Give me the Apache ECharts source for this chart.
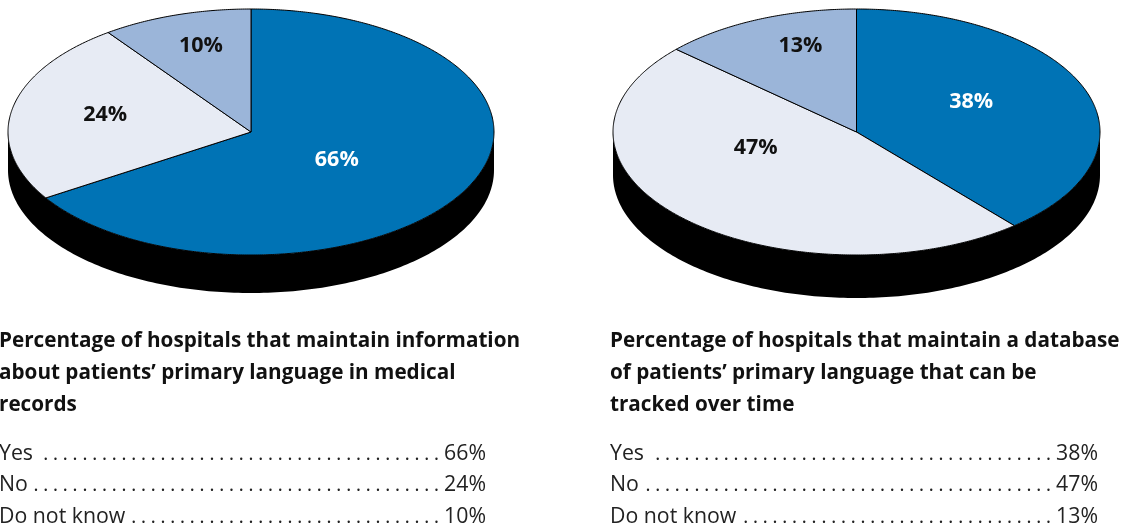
<!DOCTYPE html>
<html>
<head>
<meta charset="utf-8">
<style>
html, body { margin: 0; padding: 0; background: #fff; }
#main { width: 1125px; height: 529px; }
</style>
<script src="https://cdn.jsdelivr.net/npm/echarts@6/dist/echarts.min.js"></script>
</head>
<body>
<div id="main"></div>
<script>
const categories = ['Yes', 'No', 'Do not know']
const medicalRecords = [66, 24, 10]
const databaseTracked = [38, 47, 13]
const titleLeft = ['Percentage of hospitals that maintain information', 'about patients\u2019 primary language in medical', 'records']
const titleRight = ['Percentage of hospitals that maintain a database', 'of patients\u2019 primary language that can be', 'tracked over time']

const sliceColors = ['#0073b5', '#e7ebf4', '#9bb5d9']
const labelColors = ['#ffffff', '#111111', '#111111']
const textFont = '"Open Sans"'

// top-down clockwise angle on the squashed circle
const rimPoint = (p, deg, dy) => {
    const a = deg * Math.PI / 180
    return [p.cx + p.rx * Math.sin(a), p.cy - p.ry * Math.cos(a) + (dy || 0)]
}

const pieSeries = (p, values) => {
    const total = values.reduce((s, v) => s + v, 0)
    const side = {
        type: 'custom',
        coordinateSystem: 'none',
        silent: true,
        data: [0],
        renderItem: () => {
            const points = []
            for (let d = 90; d <= 270; d++) points.push(rimPoint(p, d, p.depth))
            for (let d = 270; d >= 90; d--) points.push(rimPoint(p, d, 0))
            return { type: 'polygon', shape: { points }, style: { fill: '#000' } }
        }
    }
    const top = {
        type: 'custom',
        coordinateSystem: 'none',
        silent: true,
        data: values,
        renderItem: (params, api) => {
            const i = params.dataIndex
            const before = values.slice(0, i).reduce((s, v) => s + v, 0)
            const start = before / total * 360
            const end = (before + api.value(0)) / total * 360
            const points = [[p.cx, p.cy]]
            for (let d = start; d < end; d += 0.5) points.push(rimPoint(p, d, 0))
            points.push(rimPoint(p, end, 0))
            return {
                type: 'group',
                children: [
                    { type: 'polygon', shape: { points }, style: { fill: sliceColors[i], stroke: '#000', lineWidth: 1, lineJoin: 'round' } },
                    {
                        type: 'text',
                        z2: 10,
                        style: {
                            text: api.value(0) + '%',
                            x: p.cx + p.labels[i][0] * p.rx,
                            y: p.cy + p.labels[i][1] * p.ry + 1,
                            align: 'center',
                            verticalAlign: 'middle',
                            fill: labelColors[i],
                            font: 'bold 21.5px ' + textFont
                        }
                    }
                ]
            }
        }
    }
    return [side, top]
}

const pieLeft = { cx: 251, cy: 132, rx: 243, ry: 123, depth: 38, labels: [[0.353, 0.22], [-0.6, -0.146], [-0.206, -0.707]] }
const pieRight = { cx: 856.5, cy: 132, rx: 243.5, ry: 123, depth: 43, labels: [[0.471, -0.252], [-0.414, 0.122], [-0.23, -0.707]] }

// caption and dotted value list below a pie
const tableText = (x, right, title, values, dotCounts) => {
    const out = []
    title.forEach((line, i) => {
        out.push({
            type: 'text', x: x, y: 341 + i * 32,
            style: { text: line, font: 'bold 20.7px ' + textFont, fill: '#111', verticalAlign: 'middle' }
        })
    })
    categories.forEach((name, i) => {
        const y = 453.5 + i * 31.5
        out.push({
            type: 'text', x: x, y: y,
            style: { text: name, font: '21.3px ' + textFont, fill: '#222', verticalAlign: 'middle' }
        })
        out.push({
            type: 'text', x: right - 47, y: y + 1,
            style: { text: '. '.repeat(dotCounts[i]).trim(), font: '18.5px "Noto Sans"', fill: '#222', align: 'right', verticalAlign: 'middle' }
        })
        out.push({
            type: 'text', x: right, y: y,
            style: { text: values[i] + '%', font: '21.3px ' + textFont, fill: '#222', align: 'right', verticalAlign: 'middle' }
        })
    })
    return out
}

const myChart = echarts.init(document.getElementById('main'))
myChart.setOption({
    animation: false,
    series: [...pieSeries(pieLeft, medicalRecords), ...pieSeries(pieRight, databaseTracked)],
    graphic: [
        ...tableText(-1, 486, titleLeft, medicalRecords, [41, 42, 32]),
        ...tableText(610, 1098, titleRight, databaseTracked, [41, 42, 32])
    ]
})
</script>
</body>
</html>
